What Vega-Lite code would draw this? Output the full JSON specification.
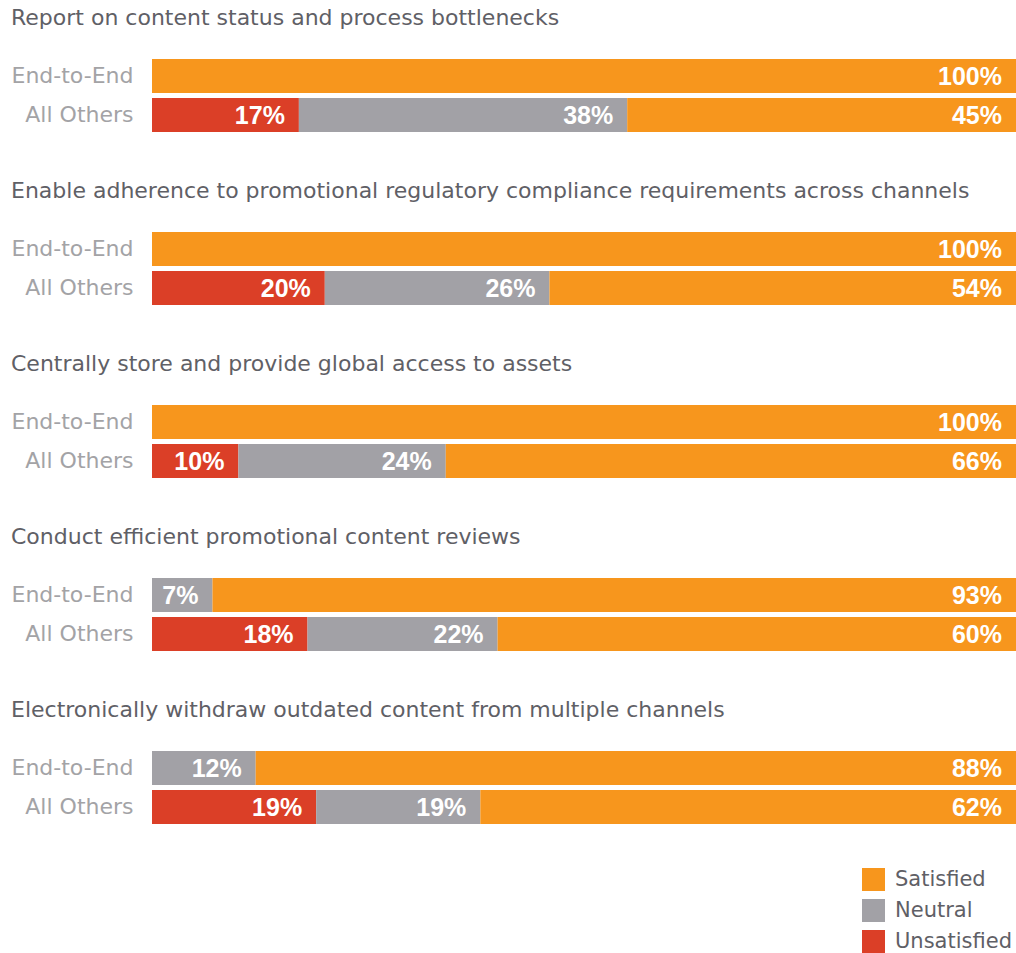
{
  "$schema": "https://vega.github.io/schema/vega-lite/v6.json",
  "padding": {"left": 11, "top": 7, "right": 0, "bottom": 0},
  "background": "white",
  "datasets": {
    "survey": [
      {"question": "Report on content status and process bottlenecks", "group": "End-to-End", "status": "Satisfied", "level": 3, "share": 1.00},
      {"question": "Report on content status and process bottlenecks", "group": "All Others", "status": "Unsatisfied", "level": 1, "share": 0.17},
      {"question": "Report on content status and process bottlenecks", "group": "All Others", "status": "Neutral", "level": 2, "share": 0.38},
      {"question": "Report on content status and process bottlenecks", "group": "All Others", "status": "Satisfied", "level": 3, "share": 0.45},
      {"question": "Enable adherence to promotional regulatory compliance requirements across channels", "group": "End-to-End", "status": "Satisfied", "level": 3, "share": 1.00},
      {"question": "Enable adherence to promotional regulatory compliance requirements across channels", "group": "All Others", "status": "Unsatisfied", "level": 1, "share": 0.20},
      {"question": "Enable adherence to promotional regulatory compliance requirements across channels", "group": "All Others", "status": "Neutral", "level": 2, "share": 0.26},
      {"question": "Enable adherence to promotional regulatory compliance requirements across channels", "group": "All Others", "status": "Satisfied", "level": 3, "share": 0.54},
      {"question": "Centrally store and provide global access to assets", "group": "End-to-End", "status": "Satisfied", "level": 3, "share": 1.00},
      {"question": "Centrally store and provide global access to assets", "group": "All Others", "status": "Unsatisfied", "level": 1, "share": 0.10},
      {"question": "Centrally store and provide global access to assets", "group": "All Others", "status": "Neutral", "level": 2, "share": 0.24},
      {"question": "Centrally store and provide global access to assets", "group": "All Others", "status": "Satisfied", "level": 3, "share": 0.66},
      {"question": "Conduct efficient promotional content reviews", "group": "End-to-End", "status": "Neutral", "level": 2, "share": 0.07},
      {"question": "Conduct efficient promotional content reviews", "group": "End-to-End", "status": "Satisfied", "level": 3, "share": 0.93},
      {"question": "Conduct efficient promotional content reviews", "group": "All Others", "status": "Unsatisfied", "level": 1, "share": 0.18},
      {"question": "Conduct efficient promotional content reviews", "group": "All Others", "status": "Neutral", "level": 2, "share": 0.22},
      {"question": "Conduct efficient promotional content reviews", "group": "All Others", "status": "Satisfied", "level": 3, "share": 0.60},
      {"question": "Electronically withdraw outdated content from multiple channels", "group": "End-to-End", "status": "Neutral", "level": 2, "share": 0.12},
      {"question": "Electronically withdraw outdated content from multiple channels", "group": "End-to-End", "status": "Satisfied", "level": 3, "share": 0.88},
      {"question": "Electronically withdraw outdated content from multiple channels", "group": "All Others", "status": "Unsatisfied", "level": 1, "share": 0.19},
      {"question": "Electronically withdraw outdated content from multiple channels", "group": "All Others", "status": "Neutral", "level": 2, "share": 0.19},
      {"question": "Electronically withdraw outdated content from multiple channels", "group": "All Others", "status": "Satisfied", "level": 3, "share": 0.62}
    ]
  },
  "data": {"name": "survey"},
  "transform": [
    {"stack": "share", "groupby": ["question", "group"], "sort": [{"field": "level", "order": "ascending"}], "as": ["start", "end"]}
  ],
  "spacing": 48,
  "config": {
    "view": {"stroke": null},
    "title": {"anchor": "start", "frame": "bounds", "font": "DejaVu Sans", "fontSize": 22, "fontWeight": "normal", "color": "#5f6066", "offset": 29},
    "axis": {"labelFont": "DejaVu Sans", "labelFontSize": 22, "labelColor": "#a3a3a6", "ticks": false, "domain": false, "grid": false, "labelPadding": 19, "title": null, "labelLimit": 300},
    "legend": {"orient": "none", "legendX": 710, "legendY": 809, "title": null, "symbolType": "square", "symbolSize": 529, "symbolStrokeWidth": 0, "symbolOpacity": 1, "labelFont": "DejaVu Sans", "labelFontSize": 21, "labelColor": "#5f6066", "labelOffset": 10, "rowPadding": 8}
  },
  "vconcat": [
    {
      "title": "Report on content status and process bottlenecks",
      "transform": [{"filter": "datum.question === 'Report on content status and process bottlenecks'"}],
      "width": 864, "height": 73,
      "encoding": {"y": {"field": "group", "type": "nominal", "sort": ["End-to-End", "All Others"], "scale": {"paddingInner": 0.13, "paddingOuter": 0}}},
      "layer": [
        {"mark": {"type": "bar"}, "encoding": {"x": {"field": "start", "type": "quantitative", "scale": {"domain": [0, 1], "nice": false}, "axis": null}, "x2": {"field": "end"}, "color": {"field": "status", "type": "nominal", "scale": {"domain": ["Satisfied", "Neutral", "Unsatisfied"], "range": ["#f7961d", "#a2a1a6", "#db3f27"]}}}},
        {"mark": {"type": "text", "align": "right", "baseline": "middle", "dx": -14, "dy": 1, "color": "white", "font": "Liberation Sans", "fontWeight": "bold", "fontSize": 25}, "encoding": {"x": {"field": "end", "type": "quantitative"}, "text": {"field": "share", "format": ".0%"}}}
      ]
    },
    {
      "title": "Enable adherence to promotional regulatory compliance requirements across channels",
      "transform": [{"filter": "datum.question === 'Enable adherence to promotional regulatory compliance requirements across channels'"}],
      "width": 864, "height": 73,
      "encoding": {"y": {"field": "group", "type": "nominal", "sort": ["End-to-End", "All Others"], "scale": {"paddingInner": 0.13, "paddingOuter": 0}}},
      "layer": [
        {"mark": {"type": "bar"}, "encoding": {"x": {"field": "start", "type": "quantitative", "scale": {"domain": [0, 1], "nice": false}, "axis": null}, "x2": {"field": "end"}, "color": {"field": "status", "type": "nominal", "scale": {"domain": ["Satisfied", "Neutral", "Unsatisfied"], "range": ["#f7961d", "#a2a1a6", "#db3f27"]}}}},
        {"mark": {"type": "text", "align": "right", "baseline": "middle", "dx": -14, "dy": 1, "color": "white", "font": "Liberation Sans", "fontWeight": "bold", "fontSize": 25}, "encoding": {"x": {"field": "end", "type": "quantitative"}, "text": {"field": "share", "format": ".0%"}}}
      ]
    },
    {
      "title": "Centrally store and provide global access to assets",
      "transform": [{"filter": "datum.question === 'Centrally store and provide global access to assets'"}],
      "width": 864, "height": 73,
      "encoding": {"y": {"field": "group", "type": "nominal", "sort": ["End-to-End", "All Others"], "scale": {"paddingInner": 0.13, "paddingOuter": 0}}},
      "layer": [
        {"mark": {"type": "bar"}, "encoding": {"x": {"field": "start", "type": "quantitative", "scale": {"domain": [0, 1], "nice": false}, "axis": null}, "x2": {"field": "end"}, "color": {"field": "status", "type": "nominal", "scale": {"domain": ["Satisfied", "Neutral", "Unsatisfied"], "range": ["#f7961d", "#a2a1a6", "#db3f27"]}}}},
        {"mark": {"type": "text", "align": "right", "baseline": "middle", "dx": -14, "dy": 1, "color": "white", "font": "Liberation Sans", "fontWeight": "bold", "fontSize": 25}, "encoding": {"x": {"field": "end", "type": "quantitative"}, "text": {"field": "share", "format": ".0%"}}}
      ]
    },
    {
      "title": "Conduct efficient promotional content reviews",
      "transform": [{"filter": "datum.question === 'Conduct efficient promotional content reviews'"}],
      "width": 864, "height": 73,
      "encoding": {"y": {"field": "group", "type": "nominal", "sort": ["End-to-End", "All Others"], "scale": {"paddingInner": 0.13, "paddingOuter": 0}}},
      "layer": [
        {"mark": {"type": "bar"}, "encoding": {"x": {"field": "start", "type": "quantitative", "scale": {"domain": [0, 1], "nice": false}, "axis": null}, "x2": {"field": "end"}, "color": {"field": "status", "type": "nominal", "scale": {"domain": ["Satisfied", "Neutral", "Unsatisfied"], "range": ["#f7961d", "#a2a1a6", "#db3f27"]}}}},
        {"mark": {"type": "text", "align": "right", "baseline": "middle", "dx": -14, "dy": 1, "color": "white", "font": "Liberation Sans", "fontWeight": "bold", "fontSize": 25}, "encoding": {"x": {"field": "end", "type": "quantitative"}, "text": {"field": "share", "format": ".0%"}}}
      ]
    },
    {
      "title": "Electronically withdraw outdated content from multiple channels",
      "transform": [{"filter": "datum.question === 'Electronically withdraw outdated content from multiple channels'"}],
      "width": 864, "height": 73,
      "encoding": {"y": {"field": "group", "type": "nominal", "sort": ["End-to-End", "All Others"], "scale": {"paddingInner": 0.13, "paddingOuter": 0}}},
      "layer": [
        {"mark": {"type": "bar"}, "encoding": {"x": {"field": "start", "type": "quantitative", "scale": {"domain": [0, 1], "nice": false}, "axis": null}, "x2": {"field": "end"}, "color": {"field": "status", "type": "nominal", "scale": {"domain": ["Satisfied", "Neutral", "Unsatisfied"], "range": ["#f7961d", "#a2a1a6", "#db3f27"]}}}},
        {"mark": {"type": "text", "align": "right", "baseline": "middle", "dx": -14, "dy": 1, "color": "white", "font": "Liberation Sans", "fontWeight": "bold", "fontSize": 25}, "encoding": {"x": {"field": "end", "type": "quantitative"}, "text": {"field": "share", "format": ".0%"}}}
      ]
    }
  ]
}
